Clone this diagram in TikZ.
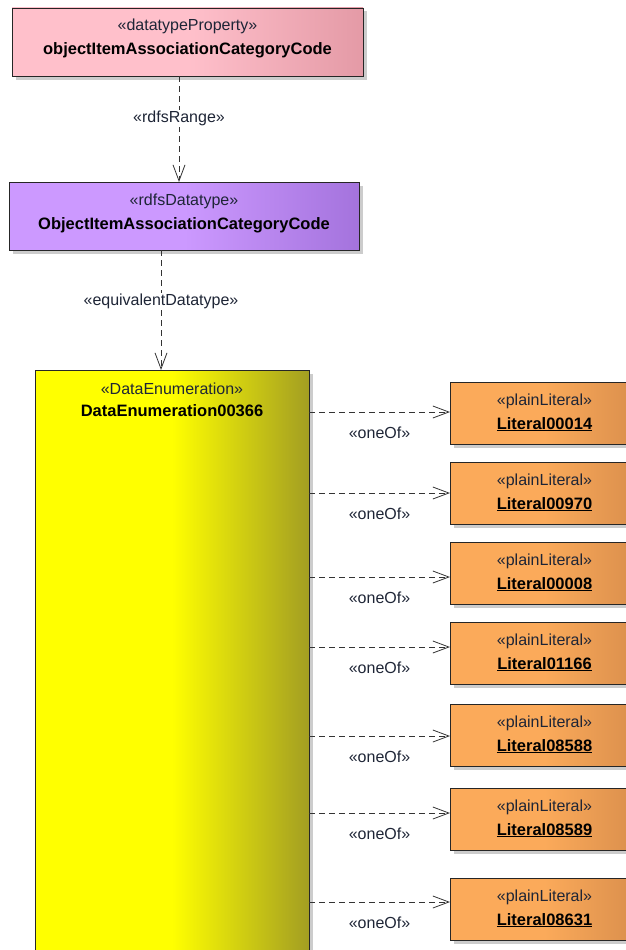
\documentclass[tikz,border=0pt]{standalone}
\usepackage{fontspec}
\setmainfont{Liberation Sans}
\usetikzlibrary{arrows.meta,shadows}

\definecolor{stereo}{HTML}{1E2536}
\definecolor{propL}{HTML}{FFC0CB}
\definecolor{propR}{HTML}{E49AA6}
\definecolor{dtL}{HTML}{CC99FF}
\definecolor{dtR}{HTML}{A473DD}
\definecolor{enumL}{HTML}{FFFF00}
\definecolor{enumR}{HTML}{A39E22}
\definecolor{litL}{HTML}{FBAA5A}
\definecolor{litR}{HTML}{D98E4C}

% flat on the left half, darkening over the right half
\pgfdeclarehorizontalshading{propshade}{100bp}{color(0bp)=(propL); color(25bp)=(propL);
  color(50bp)=(propL); color(75bp)=(propR); color(100bp)=(propR)}
\pgfdeclarehorizontalshading{dtshade}{100bp}{color(0bp)=(dtL); color(25bp)=(dtL);
  color(50bp)=(dtL); color(75bp)=(dtR); color(100bp)=(dtR)}
\pgfdeclarehorizontalshading{enumshade}{100bp}{color(0bp)=(enumL); color(25bp)=(enumL);
  color(50bp)=(enumL); color(75bp)=(enumR); color(100bp)=(enumR)}
\pgfdeclarehorizontalshading{litshade}{100bp}{color(0bp)=(litL); color(25bp)=(litL);
  color(50bp)=(litL); color(75bp)=(litR); color(100bp)=(litR)}

\begin{document}
\begin{tikzpicture}[x=1pt,y=-1pt,
  box/.style={draw=black!85, line width=0.9pt, rectangle, inner sep=0pt, outer sep=0pt,
    anchor=north west,
    drop shadow={shadow xshift=3.5pt, shadow yshift=-3.5pt, fill=black!25, opacity=0.8}},
  stereotype/.style={font=\fontsize{16}{19}\selectfont, text=stereo, anchor=base,
    inner sep=0pt, yshift=-23pt},
  title/.style={font=\fontsize{16.5}{19}\selectfont\bfseries, text=black, anchor=base,
    inner sep=0pt, yshift=-47pt},
  dep/.style={draw=black!80, line width=0.8pt, dash pattern=on 6pt off 4pt,
    -{Straight Barb[length=16pt, width=12pt, line width=0.8pt]}},
  deplabel/.style={font=\fontsize{16}{19}\selectfont, text=stereo, fill=white, inner sep=1pt},
  oneof/.style={font=\fontsize{16}{19}\selectfont, text=stereo, inner sep=0pt, yshift=-21pt},
]
\useasboundingbox (0,0) rectangle (626,950);
\clip (0,0) rectangle (626,950);

% datatype property
\node[box, shading=propshade, shading angle=0, minimum width=351pt, minimum height=68pt,
  label={[stereotype]north:{«datatypeProperty»}},
  label={[title]north:{objectItemAssociationCategoryCode}}] (prop) at (12,8) {};

% rdfs datatype
\node[box, shading=dtshade, shading angle=0, minimum width=350pt, minimum height=68pt,
  label={[stereotype]north:{«rdfsDatatype»}},
  label={[title]north:{ObjectItemAssociationCategoryCode}}] (dtype) at (9,182) {};

% data enumeration
\node[box, shading=enumshade, shading angle=0, minimum width=274pt, minimum height=620pt,
  label={[stereotype,yshift=-1pt]north:{«DataEnumeration»}},
  label={[title,yshift=1pt]north:{DataEnumeration00366}}] (denum) at (35,370) {};

% dependencies down the left column
\coordinate (r1) at ([xshift=-8.5pt]prop.south);
\draw[dep] (r1) -- node[deplabel, pos=0.4] {«rdfsRange»} (r1 |- dtype.north);

\coordinate (r2) at ([xshift=-23pt]dtype.south);
\draw[dep] (r2) -- node[deplabel, pos=0.43] {«equivalentDatatype»} (r2 |- denum.north);

% enumeration literals
\foreach \i/\top/\ay/\txt in {1/382/412/Literal00014, 2/462/493/Literal00970,
    3/542/577/Literal00008, 4/622/647/Literal01166, 5/704/736/Literal08588,
    6/788/813/Literal08589, 7/878/902/Literal08631} {
  \node[box, shading=litshade, shading angle=0, minimum width=189pt, minimum height=62pt,
    label={[stereotype]north:{«plainLiteral»}},
    label={[title]north:{\underline{\txt}}}] (lit\i) at (450,\top) {};
  \coordinate (a\i) at (450,\ay);
  \draw[dep] (a\i -| denum.east) -- node[oneof] {«oneOf»} (lit\i.west |- a\i);
}
\end{tikzpicture}
\end{document}
